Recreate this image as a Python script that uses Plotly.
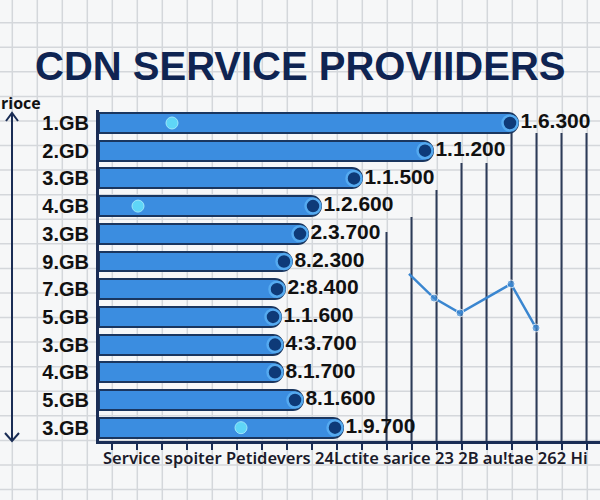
import plotly.graph_objects as go

# ---------------- data ----------------
categories = ["1.GB", "2.GD", "3.GB", "4.GB", "3.GB", "9.GB",
              "7.GB", "5.GB", "3.GB", "4.GB", "5.GB", "3.GB"]
bar_values = [16.76, 13.36, 10.52, 8.88, 8.36, 7.72,
              7.44, 7.28, 7.36, 7.36, 8.16, 9.76]
value_labels = ["1.6.300", "1.1.200", "1.1.500", "1.2.600", "2.3.700", "8.2.300",
                "2:8.400", "1.1.600", "4:3.700", "8.1.700", "8.1.600", "1.9.700"]
highlight_rows = [0, 3, 11]
highlight_x = [2.92, 1.56, 5.68]
line_x = [12.4, 13.4, 14.44, 16.48, 17.48]
line_y = [5.45, 6.32, 6.86, 5.81, 7.4]
title_text = "CDN SERVICE PROVIIDERS"
x_title = "Service spoiter Petidevers 24Lctite sarice 23 2B au!tae 262 Hi"
y_title = "rioce"

# ---------------- layout geometry (pixels) ----------------
W, H = 600, 500
L, R, T, B = 99, 600, 110, 441


def px_x(px):
    return (px - L) / (R - L)


def px_y(py):
    return (B - py) / (B - T)


NAVY = "#1a2d55"
rows = list(range(len(categories)))

fig = go.Figure()

fig.add_trace(go.Bar(
    orientation="h", x=bar_values, y=rows, width=0.72,
    marker=dict(color="#3b8de0", line=dict(color="#1a365f", width=2), cornerradius=10),
    hoverinfo="skip", showlegend=False,
))

fig.add_trace(go.Scatter(
    x=highlight_x, y=highlight_rows, mode="markers",
    marker=dict(size=12, color="#5fd6f7", line=dict(color="#9de8fb", width=1)),
    hoverinfo="skip", showlegend=False,
))

fig.add_trace(go.Scatter(
    x=[v - 0.32 for v in bar_values], y=rows, mode="markers+text",
    text=value_labels, textposition="middle right",
    textfont=dict(family="Liberation Sans", size=21, color="#111111", weight="bold"),
    marker=dict(size=15, color="#0e3a78", line=dict(color="#55aaf0", width=2.5)),
    cliponaxis=False, hoverinfo="skip", showlegend=False,
))

fig.add_trace(go.Scatter(
    x=line_x, y=line_y, mode="lines+markers",
    line=dict(color="#3a86d0", width=2.5),
    marker=dict(size=[0, 8, 8, 8, 8], color="#3a86d0"),
    hoverinfo="skip", showlegend=False,
))

shapes = []
# background graph-paper grid
for k in range(24):
    xp = px_x(12.3 + 25 * k)
    shapes.append(dict(type="line", xref="paper", yref="paper", x0=xp, x1=xp,
                       y0=px_y(H), y1=px_y(0), layer="below",
                       line=dict(color="#d4d7db", width=1.5)))
for k in range(20):
    yp = px_y(22.7 + 24.57 * k)
    shapes.append(dict(type="line", xref="paper", yref="paper", x0=px_x(0), x1=px_x(W),
                       y0=yp, y1=yp, layer="below",
                       line=dict(color="#d4d7db", width=1.5)))
# dark vertical rules on the right
tops = [232, 217, 190, 163, 163, 133, 133, 133, 133]
for i, top in enumerate(tops):
    xv = 11.5 + i
    shapes.append(dict(type="line", xref="x", yref="paper", x0=xv, x1=xv,
                       y0=0, y1=px_y(top), layer="below",
                       line=dict(color="#2c3b58", width=2)))
# vertical double arrow on the left
ax = 12
shapes.append(dict(type="line", xref="paper", yref="paper", x0=px_x(ax), x1=px_x(ax),
                   y0=px_y(113), y1=px_y(441), line=dict(color=NAVY, width=2)))
shapes.append(dict(type="path", xref="paper", yref="paper",
                   path=f"M {px_x(ax-6)},{px_y(121)} L {px_x(ax)},{px_y(113)} L {px_x(ax+6)},{px_y(121)}",
                   line=dict(color=NAVY, width=2)))
shapes.append(dict(type="path", xref="paper", yref="paper",
                   path=f"M {px_x(ax-7)},{px_y(433)} L {px_x(ax)},{px_y(441)} L {px_x(ax+7)},{px_y(433)}",
                   line=dict(color=NAVY, width=2)))

annotations = [
    dict(text=title_text, xref="paper", yref="paper", x=px_x(300), y=px_y(66),
         xanchor="center", yanchor="middle", showarrow=False,
         font=dict(family="Liberation Sans", size=40, color="#0f2452", weight="bold")),
    dict(text=y_title, xref="paper", yref="paper", x=px_x(-1), y=px_y(103),
         xanchor="left", yanchor="middle", showarrow=False,
         font=dict(family="Open Sans", size=16, color="#111111", weight="bold")),
    dict(text=x_title, xref="paper", yref="paper", x=px_x(101), y=px_y(457),
         xanchor="left", yanchor="middle", showarrow=False,
         font=dict(family="Noto Sans", size=16.5, color="#1b1b2b", weight=600)),
]

fig.update_layout(
    width=W, height=H,
    margin=dict(l=L, r=W - R, t=T, b=H - B, pad=0),
    paper_bgcolor="#f6f7f8", plot_bgcolor="rgba(0,0,0,0)",
    shapes=shapes, annotations=annotations, bargap=0,
    xaxis=dict(range=[0, (R - L) / 25], showgrid=False, zeroline=False,
               showline=True, linecolor=NAVY, linewidth=3,
               ticks="outside", ticklen=6, tickwidth=1.5, tickcolor=NAVY,
               tick0=0.5, dtick=1, showticklabels=False, fixedrange=True),
    yaxis=dict(range=[(B - 123) / 27.7, (T - 123) / 27.7], tickvals=rows, ticktext=categories,
               showgrid=False, zeroline=False, showline=True, linecolor=NAVY, linewidth=3,
               ticks="", ticklabelstandoff=3,
               tickfont=dict(family="Liberation Sans", size=20, color="#111111", weight="bold"),
               fixedrange=True),
)

fig.write_html("out.html")
